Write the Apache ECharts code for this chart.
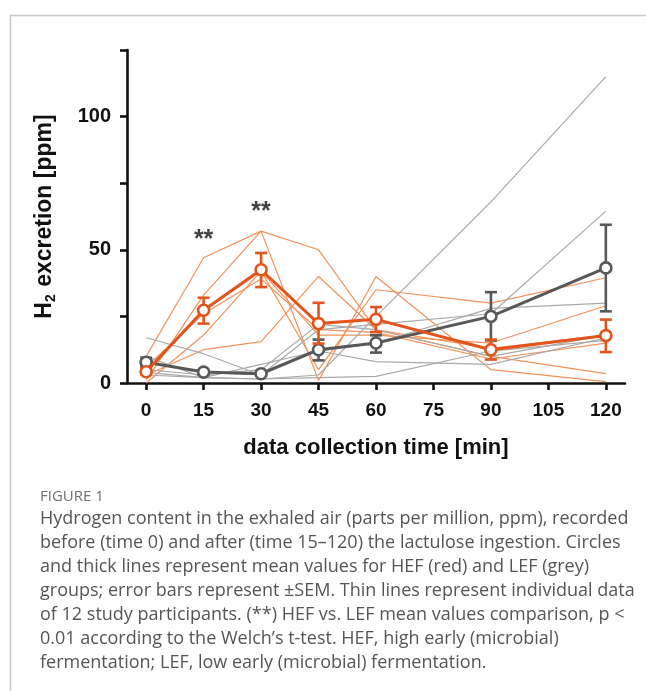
<!DOCTYPE html>
<html><head><meta charset="utf-8">
<script src="https://cdn.jsdelivr.net/npm/echarts@6/dist/echarts.min.js"></script>
<style>html,body{margin:0;padding:0;background:#fff;}#c{width:646px;height:691px;}</style>
</head><body><div id="c"></div>
<script>
const times = [0, 15, 30, 45, 60, 90, 120];
const xTicks = [0, 15, 30, 45, 60, 75, 90, 105, 120];
const yTicks = [0, 50, 100];

// individual participants, HEF group
const hef1 = [10, 47, 57, 50, 20, 13, 18];
const hef2 = [1, 33, 57, 1, 40, 5, 0.5];
const hef3 = [3, 12.5, 15.5, 40, 20, 10, 3.5];
const hef4 = [0, 18, 42, 5, 35, 30, 39.5];
const hef5 = [4, 27, 42, 18, 18, 15, 29];
const hef6 = [6, 26, 39, 20, 19, 9, 15];
// individual participants, LEF group
const lef1 = [3, 2, 1.5, 3, 25, 68, 115];
const lef2 = [8, 4, 3, 20, 22, 26, 64.5];
const lef3 = [17, 11, 3, 12, 15, 28, 30];
const lef4 = [5, 3, 5, 22, 20, 10, 18];
const lef5 = [10, 2, 7, 12, 8, 7, 17];
const lef6 = [4, 2, 1.5, 2, 2.5, 12, 16];

// group means and SEM bounds
const hefMean = [4.2, 27.3, 42.5, 22.3, 23.9, 12.5, 17.8];
const hefLow  = [3.2, 22.3, 36.0, 14.8, 19.1, 8.8, 11.6];
const hefHigh = [5.2, 32.0, 48.8, 30.1, 28.5, 16.3, 23.8];
const lefMean = [7.8, 4.1, 3.5, 12.5, 15.0, 25.0, 43.2];
const lefLow  = [6.0, 3.4, 2.9, 8.5, 11.4, 16.0, 26.9];
const lefHigh = [9.5, 4.8, 4.1, 16.3, 17.9, 34.1, 59.4];

const stars = [[15, 53.5], [30, 64]];

const HEF_C = '#e1541c', HEF_T = '#f2925a', LEF_C = '#58585a', LEF_T = '#a9a9a9';
const pts = arr => times.map((t, i) => [t, arr[i]]);
const thin = (arr, color) => ({type: 'line', data: pts(arr), symbol: 'none', silent: true,
  lineStyle: {color: color, width: 1.2}, z: 2});
const errSeries = (low, high, color, z) => ({
  type: 'custom', z: z, silent: true,
  data: times.map((t, i) => [t, low[i], high[i]]),
  renderItem: (params, api) => {
    const a = api.coord([api.value(0), api.value(1)]);
    const b = api.coord([api.value(0), api.value(2)]);
    const w = 6;
    const st = {stroke: color, lineWidth: 2.6};
    return {type: 'group', children: [
      {type: 'line', shape: {x1: a[0], y1: a[1], x2: b[0], y2: b[1]}, style: st},
      {type: 'line', shape: {x1: a[0] - w, y1: a[1], x2: a[0] + w, y2: a[1]}, style: st},
      {type: 'line', shape: {x1: b[0] - w, y1: b[1], x2: b[0] + w, y2: b[1]}, style: st}
    ]};
  }
});
const meanSeries = (arr, color, z) => ({type: 'line', data: pts(arr), z: z,
  symbol: 'circle', symbolSize: 11, lineStyle: {color: color, width: 3},
  itemStyle: {color: '#fff', borderColor: color, borderWidth: 2.6}});

const F = '"Liberation Sans", Arial, sans-serif';
const caption = [
  'Hydrogen content in the exhaled air (parts per million, ppm), recorded',
  'before (time 0) and after (time 15\u2013120) the lactulose ingestion. Circles',
  'and thick lines represent mean values for HEF (red) and LEF (grey)',
  'groups; error bars represent \u00B1SEM. Thin lines represent individual data',
  'of 12 study participants. (**) HEF vs. LEF mean values comparison, p <',
  '0.01 according to the Welch\u2019s t-test. HEF, high early (microbial)',
  'fermentation; LEF, low early (microbial) fermentation.'
].join('\n');

const chart = echarts.init(document.getElementById('c'));
chart.setOption({
  animation: false,
  grid: {left: 127, right: 21, top: 50, bottom: 308, containLabel: false},
  xAxis: {type: 'value', min: -5, max: 125, interval: 15,
    name: 'data collection time [min]', nameLocation: 'middle', nameGap: 54,
    nameTextStyle: {fontFamily: F, fontWeight: 'bold', fontSize: 22, color: '#111'},
    axisLine: {onZero: false, lineStyle: {color: '#111', width: 2.6}},
    axisTick: {length: 7, lineStyle: {color: '#111', width: 2.6}, customValues: xTicks},
    axisLabel: {fontFamily: F, fontWeight: 'bold', fontSize: 19, color: '#111', margin: 18, customValues: xTicks},
    splitLine: {show: false}},
  yAxis: {type: 'value', min: 0, max: 125, interval: 25,
    name: '{b|H}{s|2}{b| excretion [ppm]}', nameLocation: 'middle', nameGap: 68, nameRotate: 90,
    nameTextStyle: {rich: {
      b: {fontFamily: F, fontWeight: 'bold', fontSize: 23, color: '#111', lineHeight: 28},
      s: {fontFamily: F, fontWeight: 'bold', fontSize: 14, color: '#111', lineHeight: 28, padding: [13, 1, 0, 0]}}},
    axisLine: {onZero: false, lineStyle: {color: '#111', width: 2.6}},
    axisTick: {length: 7, lineStyle: {color: '#111', width: 2.6}},
    axisLabel: {fontFamily: F, fontWeight: 'bold', fontSize: 20, color: '#111', margin: 16,
      formatter: v => yTicks.indexOf(v) >= 0 ? String(v) : ''},
    splitLine: {show: false}},
  series: [
    thin(hef1, HEF_T), thin(hef2, HEF_T), thin(hef3, HEF_T),
    thin(hef4, HEF_T), thin(hef5, HEF_T), thin(hef6, HEF_T),
    thin(lef1, LEF_T), thin(lef2, LEF_T), thin(lef3, LEF_T),
    thin(lef4, LEF_T), thin(lef5, LEF_T), thin(lef6, LEF_T),
    errSeries(lefLow, lefHigh, LEF_C, 4),
    meanSeries(lefMean, LEF_C, 5),
    errSeries(hefLow, hefHigh, HEF_C, 6),
    meanSeries(hefMean, HEF_C, 7),
    {type: 'scatter', data: stars, symbolSize: 0, silent: true, z: 8,
      label: {show: true, formatter: '**', position: 'inside',
        fontFamily: F, fontWeight: 'bold', fontSize: 25, color: '#111'}}
  ],
  graphic: [
    {type: 'line', shape: {x1: 10, y1: 15.5, x2: 646, y2: 15.5}, style: {stroke: '#c8c8c8', lineWidth: 1.5}},
    {type: 'line', shape: {x1: 10.5, y1: 15, x2: 10.5, y2: 691}, style: {stroke: '#c8c8c8', lineWidth: 1.5}},
    {type: 'text', left: 40, top: 489, style: {text: 'FIGURE 1', fontFamily: '"Open Sans", sans-serif',
      fontSize: 15, fill: '#707070'}},
    {type: 'text', left: 40, top: 507, style: {text: caption, fontFamily: '"Open Sans", sans-serif',
      fontSize: 18, lineHeight: 24, fill: '#555'}}
  ]
});
</script></body></html>
